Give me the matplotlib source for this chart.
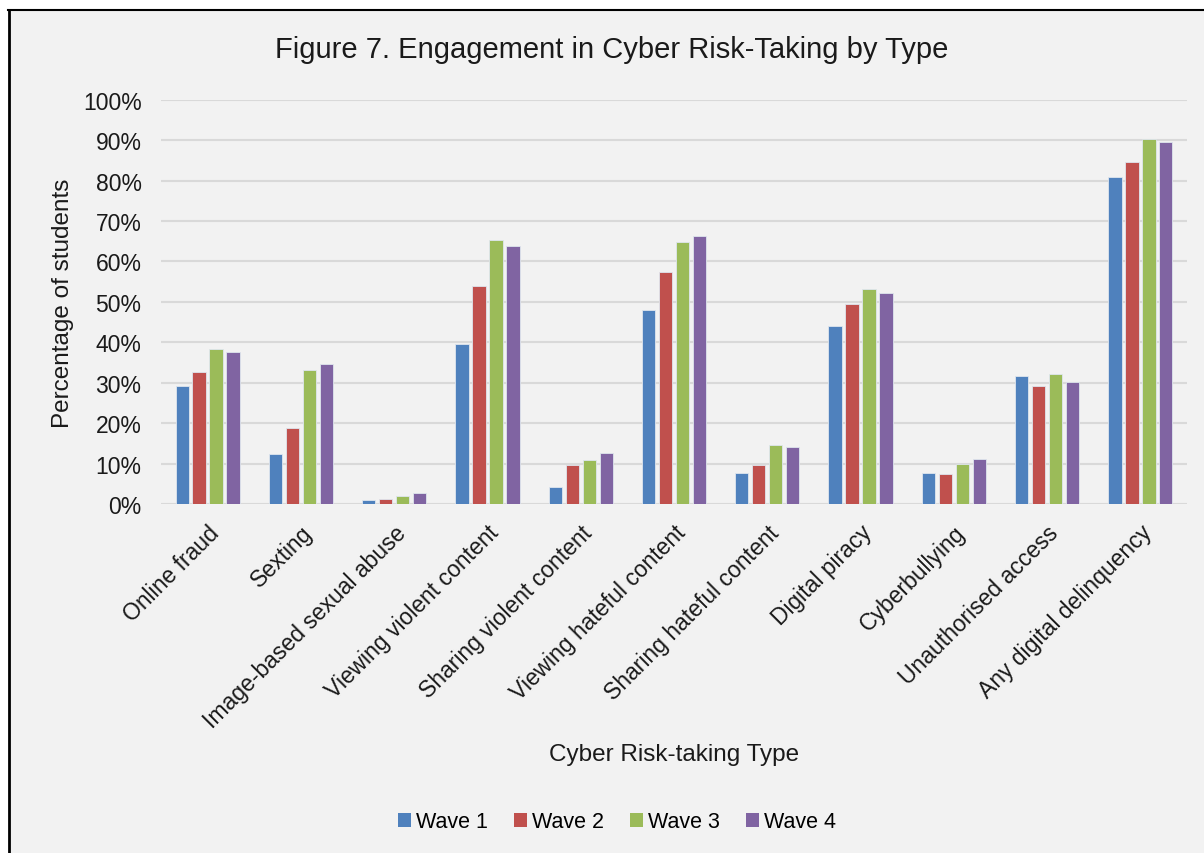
import numpy as np
import matplotlib
matplotlib.use("Agg")
import matplotlib.pyplot as plt
from matplotlib.patches import Rectangle
from matplotlib.lines import Line2D

# Data (percent of students)
categories = ['Online fraud', 'Sexting', 'Image-based sexual abuse',
              'Viewing violent content', 'Sharing violent content',
              'Viewing hateful content', 'Sharing hateful content',
              'Digital piracy', 'Cyberbullying', 'Unauthorised access',
              'Any digital delinquency']
wave1 = [29.3, 12.3, 0.9, 39.5, 4.2, 48.1, 7.6, 44.1, 7.6, 31.6, 80.8]
wave2 = [32.6, 18.9, 1.2, 53.9, 9.6, 57.4, 9.6, 49.5, 7.4, 29.1, 84.7]
wave3 = [38.4, 33.1, 2.1, 65.4, 11.0, 64.8, 14.7, 53.3, 9.9, 32.2, 90.3]
wave4 = [37.5, 34.6, 2.6, 63.8, 12.7, 66.2, 14.0, 52.2, 11.2, 30.2, 89.5]
series_names = ['Wave 1', 'Wave 2', 'Wave 3', 'Wave 4']
y_ticks = [0, 10, 20, 30, 40, 50, 60, 70, 80, 90, 100]

colors = ['#4f81bd', '#c0504d', '#9bbb59', '#8064a2']
plt.rcParams['font.family'] = ['Liberation Sans', 'DejaVu Sans']

fig = plt.figure(figsize=(12.04, 8.54), dpi=100)
fig.patch.set_facecolor('white')

# chart area background and border (top + left edges visible)
bg = Rectangle((9 / 1204, 0), 1, 1 - 11 / 854, transform=fig.transFigure,
               facecolor='#f2f2f2', edgecolor='none', zorder=-10)
fig.patches.append(bg)
fig.add_artist(Line2D([8 / 1204, 1], [1 - 11 / 854, 1 - 11 / 854],
                      transform=fig.transFigure, color='black', lw=1.5))
fig.add_artist(Line2D([9 / 1204, 9 / 1204], [0, 1 - 11 / 854],
                      transform=fig.transFigure, color='black', lw=2))

ax = fig.add_axes([161 / 1204, 1 - 505 / 854, 1026 / 1204, 404.3 / 854])
ax.set_facecolor('none')

x = np.arange(len(categories))
step = 0.182
width = 0.143
all_waves = [wave1, wave2, wave3, wave4]
for i, (vals, name) in enumerate(zip(all_waves, series_names)):
    ax.bar(x + (i - 1.5) * step, vals, width=width, color=colors[i],
           edgecolor='#dfe6ee', linewidth=0.6, label=name, zorder=3)

ax.set_xlim(-0.5, len(categories) - 0.5)
ax.set_ylim(0, 100)
ax.set_yticks(y_ticks)
ax.set_yticklabels([f'{t}%' for t in y_ticks], fontsize=16.5, color='#1a1a1a')
ax.yaxis.grid(True, color='#d9d9d9', linewidth=1.5, zorder=0)
ax.set_axisbelow(True)
for s in ax.spines.values():
    s.set_visible(False)
ax.tick_params(axis='both', length=0)
ax.tick_params(axis='y', pad=14)

ax.set_xticks(x)
ax.set_xticklabels(categories, rotation=45, ha='right', rotation_mode='anchor',
                   fontsize=16.5, color='#1a1a1a')
ax.tick_params(axis='x', pad=12)

ax.set_ylabel('Percentage of students', fontsize=17.5, color='#1a1a1a', labelpad=6)
fig.text(674 / 1204, 1 - 755 / 854, 'Cyber Risk-taking Type', fontsize=17.5,
         ha='center', va='center', color='#1a1a1a')
fig.text(612 / 1204, 1 - 50 / 854, 'Figure 7. Engagement in Cyber Risk-Taking by Type',
         fontsize=21, ha='center', va='center', color='#1a1a1a')

leg = ax.legend(loc='center', bbox_to_anchor=(617 / 1204, 1 - 823 / 854),
                bbox_transform=fig.transFigure, ncol=4, frameon=False,
                fontsize=15.5, handlelength=0.6, handleheight=0.6,
                handletextpad=0.25, columnspacing=1.2)
for h in leg.legend_handles:
    h.set_edgecolor('none')

fig.savefig('out.png', dpi=100, facecolor=fig.get_facecolor())
